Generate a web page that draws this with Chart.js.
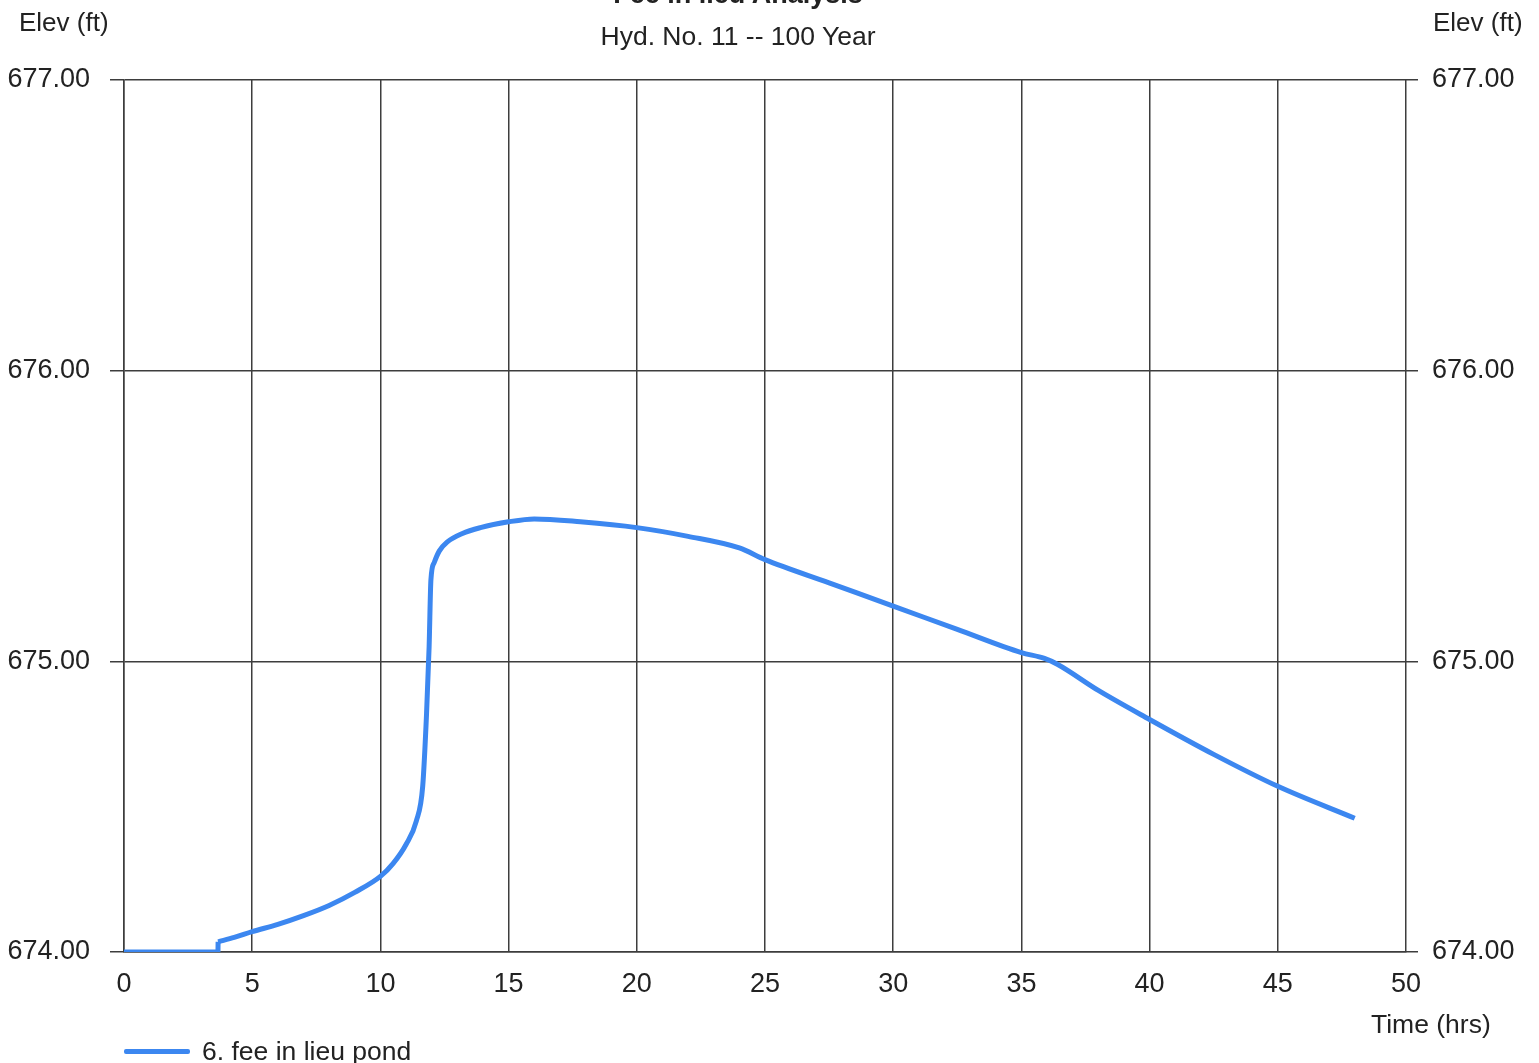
<!DOCTYPE html>
<html>
<head>
<meta charset="utf-8">
<script src="https://cdn.jsdelivr.net/npm/chart.js@4.4.0/dist/chart.umd.min.js"></script>
<style>
  body { margin: 0; background: #fff; font-family: "Liberation Sans", Arial, sans-serif; color: #222; }
  #wrap { position: relative; width: 1539px; height: 1063px; overflow: hidden; }
  .lbl { position: absolute; white-space: nowrap; font-size: 26px; line-height: 1; }
  #legend { position: absolute; left: 124px; top: 1036px; display: flex; align-items: center; font-size: 26.5px; }
  #legend span.line { display: inline-block; width: 66px; height: 5px; background: #3c87f0; margin-right: 12px; border-radius: 2px; }
</style>
</head>
<body>
<div id="wrap">
  <canvas id="grafico" width="1539" height="1063"></canvas>
  <div class="lbl" style="left:0;width:1476px;text-align:center;top:-19px;font-weight:bold;font-size:27px;">Fee in lieu Analysis</div>
  <div class="lbl" style="left:0;width:1476px;text-align:center;top:23px;font-size:26.5px;">Hyd. No. 11 -- 100 Year</div>
  <div class="lbl" style="left:19px;top:9px;">Elev (ft)</div>
  <div class="lbl" style="left:1433px;top:9px;">Elev (ft)</div>
  <div class="lbl" style="left:1371px;top:1011px;font-size:26.5px;">Time (hrs)</div>
  <div id="legend"><span class="line"></span>6. fee in lieu pond</div>
</div>
<script>
// Datos
const tiempos = [0, 1, 2, 3, 3.665, 3.67, 4.3, 5, 6, 7, 8, 9, 10, 10.5, 11, 11.4, 11.65, 11.8, 11.9, 11.97, 12.1, 12.3, 12.6, 13.2, 13.9, 15, 16, 17.8, 20, 22, 24, 25, 27.5, 30, 32.5, 35, 35.9, 36.4, 38, 40, 42.5, 45, 48];
const elevaciones = [674, 674, 674, 674, 674, 674.035, 674.05, 674.07, 674.095, 674.125, 674.16, 674.205, 674.26, 674.305, 674.37, 674.45, 674.57, 674.82, 675.05, 675.28, 675.34, 675.38, 675.41, 675.44, 675.46, 675.48, 675.49, 675.48, 675.46, 675.43, 675.39, 675.35, 675.27, 675.19, 675.11, 675.03, 675.01, 674.99, 674.90, 674.80, 674.68, 674.57, 674.46];
const serieNombre = '6. fee in lieu pond';
const indiceSalto = 5; // punto donde empieza a subir (escalón a las 3.67 h)
const xTicks = { min: 0, max: 50, step: 5 };
const yTicks = { min: 674, max: 677, step: 1 };

const puntos = tiempos.map((t, i) => ({ x: t, y: elevaciones[i] }));
const colorLinea = '#3c87f0';
const colorGrid = '#3d3d3d';
const fuente = { family: '"Liberation Sans", Arial, sans-serif', size: 27 };

const ctx = document.getElementById('grafico').getContext('2d');
new Chart(ctx, {
    type: 'line',
    data: {
        datasets: [
            {
                // tramo plano + escalón (recto)
                label: serieNombre,
                data: puntos.slice(0, indiceSalto + 1),
                borderColor: colorLinea,
                borderWidth: 5,
                borderJoinStyle: 'round',
                pointRadius: 0,
                tension: 0
            },
            {
                // tramo suavizado
                label: serieNombre,
                data: puntos.slice(indiceSalto),
                borderColor: colorLinea,
                borderWidth: 5,
                borderJoinStyle: 'round',
                pointRadius: 0,
                cubicInterpolationMode: 'monotone'
            }
        ]
    },
    options: {
        responsive: false,
        animation: false,
        layout: { padding: { top: 80 } },
        plugins: {
            legend: { display: false },
            tooltip: { enabled: false }
        },
        scales: {
            x: {
                type: 'linear',
                min: xTicks.min,
                max: xTicks.max,
                grid: { color: colorGrid, lineWidth: 1.5, drawTicks: false },
                border: { color: colorGrid, width: 1.5 },
                ticks: { stepSize: xTicks.step, color: '#222', font: fuente, padding: 16, maxRotation: 0 },
                afterFit: function(scale) { scale.height = 111; }
            },
            y: {
                position: 'left',
                min: yTicks.min,
                max: yTicks.max,
                grid: { color: colorGrid, lineWidth: 1.5, tickLength: 14 },
                border: { color: colorGrid, width: 1.5 },
                ticks: {
                    stepSize: yTicks.step, color: '#222', font: fuente, padding: 20,
                    callback: function(value) { return value.toFixed(2); }
                },
                afterFit: function(scale) { scale.width = 124; }
            },
            y2: {
                position: 'right',
                min: yTicks.min,
                max: yTicks.max,
                grid: { drawOnChartArea: false, color: colorGrid, lineWidth: 1.5, tickLength: 12 },
                border: { display: false },
                ticks: {
                    stepSize: yTicks.step, color: '#222', font: fuente, padding: 14,
                    callback: function(value) { return value.toFixed(2); }
                },
                afterFit: function(scale) { scale.width = 133; }
            }
        }
    }
});
</script>
</body>
</html>
